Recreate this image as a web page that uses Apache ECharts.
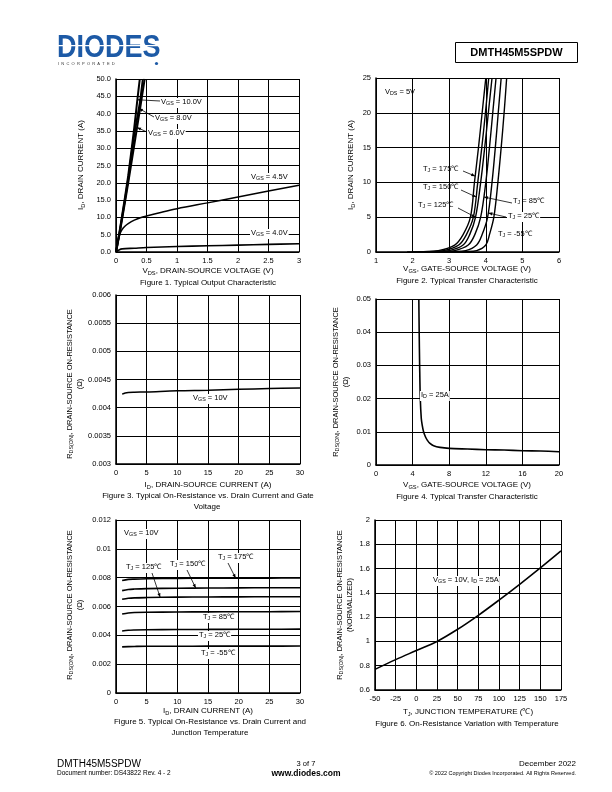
<!DOCTYPE html>
<html><head><meta charset="utf-8">
<script src="https://cdn.jsdelivr.net/npm/echarts@6/dist/echarts.min.js"></script>
<style>html,body{margin:0;padding:0;background:#fff}#c{width:612px;height:792px}</style>
</head><body><div id="c"></div>
<script>
// ---------- DATA ----------
// Figure 1: VDS (V), ID (A)
const fig1_vgs10 = [[0,0],[0.05,5],[0.1,10.5],[0.2,22],[0.3,36],[0.35,44],[0.39,50]];
const fig1_vgs8  = [[0,0],[0.05,4.8],[0.1,10],[0.2,21],[0.3,34],[0.39,43],[0.44,50]];
const fig1_vgs6  = [[0,0],[0.05,4.5],[0.1,9.5],[0.2,20],[0.3,31],[0.4,42],[0.47,50]];
const fig1_vgs45 = [[0,0],[0.03,3],[0.07,5.5],[0.1,6.5],[0.15,7.5],[0.2,8.2],[0.3,9.2],[0.4,9.9],[0.5,10.4],[0.75,11.5],[1,12.5],[1.5,14.2],[2,15.9],[2.5,17.6],[3,19.3]];
const fig1_vgs40 = [[0,0],[0.05,0.6],[0.1,0.9],[0.3,1.1],[0.5,1.3],[1,1.6],[1.5,1.8],[2,2.0],[2.5,2.2],[3,2.4]];
// Figure 2: VGS (V), ID (A)
const fig2_t175 = [[1.85,0],[2.3,0.05],[2.7,0.2],[3.15,1],[3.38,2.5],[3.58,5],[3.69,10],[3.8,15],[3.9,20],[4.0,25]];
const fig2_t150 = [[2.0,0],[2.45,0.05],[2.85,0.2],[3.26,1],[3.47,2.5],[3.66,5],[3.78,10],[3.89,15],[3.99,20],[4.08,25]];
const fig2_t125 = [[2.15,0],[2.6,0.05],[3.0,0.2],[3.38,1],[3.56,2.5],[3.72,5],[3.86,10],[3.97,15],[4.07,20],[4.17,25]];
const fig2_t85  = [[2.35,0],[2.8,0.05],[3.15,0.2],[3.52,1],[3.7,2.5],[3.86,5],[4.0,10],[4.1,15],[4.19,20],[4.28,25]];
const fig2_t25  = [[2.7,0],[3.1,0.05],[3.45,0.2],[3.75,1],[3.9,2.5],[4.05,5],[4.17,10],[4.26,15],[4.34,20],[4.42,25]];
const fig2_tm55 = [[3.1,0],[3.45,0.05],[3.75,0.2],[4.0,1],[4.1,2.5],[4.22,5],[4.33,10],[4.42,15],[4.5,20],[4.57,25]];
// Figure 3: ID (A), RDS(ON) (ohm)
const fig3_vgs10 = [[1,0.00424],[1.5,0.00426],[2,0.00427],[3,0.004275],[5,0.00428],[10,0.0043],[15,0.00431],[20,0.004325],[25,0.00434],[30,0.00435]];
// Figure 4: VGS (V), RDS(ON) (ohm)
const fig4_id25 = [[4.68,0.05],[4.72,0.04],[4.77,0.03],[4.84,0.02],[4.95,0.014],[5.05,0.012],[5.2,0.01],[5.4,0.0085],[5.6,0.0075],[5.9,0.0065],[6.3,0.0058],[7,0.0053],[8,0.005],[10,0.0048],[12,0.0046],[14,0.0045],[16,0.0043],[18,0.0042],[20,0.004]];
// Figure 5: ID (A), RDS(ON) (ohm)
const fig5_t175 = [[1,0.0078],[2,0.00788],[3,0.0079],[5,0.00792],[10,0.00795],[15,0.00796],[20,0.00797],[25,0.00797],[30,0.00798]];
const fig5_t150 = [[1,0.0071],[2,0.00718],[3,0.00721],[5,0.00724],[10,0.00727],[15,0.00728],[20,0.00729],[25,0.0073],[30,0.0073]];
const fig5_t125 = [[1,0.0065],[2,0.00657],[3,0.0066],[5,0.00662],[10,0.00665],[15,0.00666],[20,0.00667],[25,0.00668],[30,0.00668]];
const fig5_t85  = [[1,0.00548],[2,0.00555],[3,0.00558],[5,0.0056],[10,0.00562],[15,0.00563],[20,0.00564],[25,0.00564],[30,0.00565]];
const fig5_t25  = [[1,0.0043],[2,0.00435],[3,0.00437],[5,0.00439],[10,0.0044],[15,0.00441],[20,0.00442],[25,0.00442],[30,0.00443]];
const fig5_tm55 = [[1,0.0032],[2,0.00322],[3,0.00323],[5,0.00324],[10,0.00324],[15,0.00325],[20,0.00325],[25,0.00325],[30,0.00326]];
// Figure 6: TJ (C), normalized RDS(ON)
const fig6_norm = [[-50,0.77],[-25,0.85],[0,0.925],[25,1.0],[50,1.1],[75,1.215],[100,1.34],[125,1.47],[150,1.605],[175,1.745]];

// Axis ranges / ticks
const axes = [
  {x:[0,3,0.5],      y:[0,50,5],          yfmt: v => v.toFixed(1)},
  {x:[1,6,1],        y:[0,25,5],          yfmt: v => String(v)},
  {x:[0,30,5],       y:[0.003,0.006,0.0005], yfmt: v => String(+v.toFixed(4))},
  {x:[0,20,4],       y:[0,0.05,0.01],     yfmt: v => String(+v.toFixed(2))},
  {x:[0,30,5],       y:[0,0.012,0.002],   yfmt: v => String(+v.toFixed(3))},
  {x:[-50,175,25],   y:[0.6,2,0.2],       yfmt: v => String(+v.toFixed(1))}
];

// ---------- LAYOUT ----------
const FONT = '"Liberation Sans", Arial, sans-serif';
const grids = [
  {left:116, top:79,  width:183, height:173},
  {left:376, top:78,  width:183, height:174},
  {left:116, top:295, width:184, height:169},
  {left:376, top:299, width:183, height:166},
  {left:116, top:520, width:184, height:173},
  {left:375, top:520, width:186, height:170}
];

const chart = echarts.init(document.getElementById('c'), null, {renderer:'canvas'});
const lbl = {color:'#000', fontSize:7.5, fontFamily:FONT};
const xAxis = axes.map((a,i)=>({
  gridIndex:i, type:'value', min:a.x[0], max:a.x[1], interval:a.x[2],
  axisLine:{show:true, onZero:false, lineStyle:{color:'#000', width:1.5}},
  axisTick:{show:false},
  axisLabel:Object.assign({margin:5, showMinLabel:true, showMaxLabel:true, formatter: v => String(+v.toFixed(2))}, lbl),
  splitLine:{show:true, lineStyle:{color:'#000', width:1}}
}));
const yAxis = axes.map((a,i)=>({
  gridIndex:i, type:'value', min:a.y[0], max:a.y[1], interval:a.y[2],
  axisLine:{show:true, onZero:false, lineStyle:{color:'#000', width:1.5}},
  axisTick:{show:false},
  axisLabel:Object.assign({margin:5, showMinLabel:true, showMaxLabel:true, formatter:a.yfmt}, lbl),
  splitLine:{show:true, lineStyle:{color:'#000', width:1}}
}));

function S(data, gi, w, smooth){
  return {type:'line', data, xAxisIndex:gi, yAxisIndex:gi, showSymbol:false, symbol:'none',
    smooth: smooth===undefined ? 0.35 : smooth, clip:true, silent:true, animation:false,
    lineStyle:{color:'#000', width:w||1.5}, z:5};
}
const series = [
  S(fig1_vgs10,0,2,0.2), S(fig1_vgs8,0,2,0.2), S(fig1_vgs6,0,2,0.2), S(fig1_vgs45,0,1.5), S(fig1_vgs40,0,1.6),
  S(fig2_t175,1,1.4), S(fig2_t150,1,1.4), S(fig2_t125,1,1.4), S(fig2_t85,1,1.4), S(fig2_t25,1,1.4), S(fig2_tm55,1,1.4),
  S(fig3_vgs10,2,1.5),
  S(fig4_id25,3,1.6,0.3),
  S(fig5_t175,4,1.6), S(fig5_t150,4,1.6), S(fig5_t125,4,1.6), S(fig5_t85,4,1.6), S(fig5_t25,4,1.6), S(fig5_tm55,4,1.6),
  S(fig6_norm,5,1.6)
];

chart.setOption({animation:false, grid:grids, xAxis, yAxis, series});

// ---------- ANNOTATIONS ----------
function mkRich(fs){ return {
  n:{fontSize:fs, fontFamily:FONT, fill:'#000', verticalAlign:'top', lineHeight:fs+2.5},
  s:{fontSize:fs*0.71, fontFamily:FONT, fill:'#000', verticalAlign:'top', lineHeight:fs+2.5, padding:[fs*0.43,0,0,0]}
};}
const RICH = mkRich(7.5), RICH8 = mkRich(8);
function T(x, y, text, o){
  const st = Object.assign({text, fill:'#000', fontSize:7.5, fontFamily:FONT, textAlign:'center', textVerticalAlign:'middle', rich:RICH}, o||{});
  const el = {type:'text', x, y, z:100, style:st};
  if (o && o.rotation){ el.rotation = o.rotation; delete st.rotation; }
  return el;
}
function T8(x,y,text,o){ return T(x,y,text,Object.assign({fontSize:8, rich:RICH8}, o||{})); }
function LT(x,y,text,bg){ return T(x,y,text,Object.assign({textAlign:'left'}, bg?{backgroundColor:'#fff', padding:[0,1]}:{})); }
function px(gi, p){ return chart.convertToPixel({gridIndex:gi}, p); }
function arrow(x1,y1,gi,p,head){
  const q = px(gi,p), x2=q[0], y2=q[1];
  const els = [{type:'line', z:101, shape:{x1,y1,x2,y2}, style:{stroke:'#000', lineWidth:0.8}}];
  if (head!==false){
    const dx=x2-x1, dy=y2-y1, L=Math.hypot(dx,dy)||1, ux=dx/L, uy=dy/L, h=4, w=1.6;
    els.push({type:'polygon', z:101, shape:{points:[[x2,y2],[x2-ux*h-uy*w, y2-uy*h+ux*w],[x2-ux*h+uy*w, y2-uy*h-ux*w]]}, style:{fill:'#000'}});
  }
  return els;
}
const V = (sub, rest) => '{n|V}{s|'+sub+'}{n|'+rest+'}';
const TJ = rest => '{n|T}{s|J}{n|'+rest+'}';
const RDS = '{n|R}{s|DS(ON)}{n|, DRAIN-SOURCE ON-RESISTANCE}';
const ROT = Math.PI/2;

let g = [];
// header
g.push({type:'text', x:57, y:48, z:100, scaleX:0.87, style:{text:'DIODES', fill:'#1d5aa6', font:'bold 31px '+FONT, textAlign:'left', textVerticalAlign:'middle'}});
g.push({type:'rect', z:101, shape:{x:57, y:45, width:102, height:1.2}, style:{fill:'#fff'}});
g.push({type:'text', x:58, y:64, z:100, style:{text:'I  N  C  O  R  P  O  R  A  T  E  D', fill:'#333', fontSize:4, fontFamily:FONT, textAlign:'left', textVerticalAlign:'middle'}});
g.push({type:'circle', z:100, shape:{cx:156.5, cy:63.5, r:1.6}, style:{fill:'#1d5aa6'}});
g.push({type:'rect', z:100, shape:{x:455.5, y:42.5, width:122, height:20}, style:{fill:'none', stroke:'#000', lineWidth:1}});
g.push({type:'text', x:516.5, y:53, z:100, style:{text:'DMTH45M5SPDW', fill:'#000', font:'bold 11px '+FONT, textAlign:'center', textVerticalAlign:'middle'}});
// footer
g.push({type:'text', x:57, y:764, z:100, style:{text:'DMTH45M5SPDW', fill:'#000', font:'10px '+FONT, textAlign:'left', textVerticalAlign:'middle'}});
g.push({type:'text', x:57, y:773.5, z:100, style:{text:'Document number: DS43822 Rev. 4 - 2', fill:'#000', font:'6.5px '+FONT, textAlign:'left', textVerticalAlign:'middle'}});
g.push({type:'text', x:306, y:764, z:100, style:{text:'3 of 7', fill:'#000', font:'7.5px '+FONT, textAlign:'center', textVerticalAlign:'middle'}});
g.push({type:'text', x:306, y:773.5, z:100, style:{text:'www.diodes.com', fill:'#000', font:'bold 8.5px '+FONT, textAlign:'center', textVerticalAlign:'middle'}});
g.push({type:'text', x:576, y:764, z:100, style:{text:'December 2022', fill:'#000', font:'8px '+FONT, textAlign:'right', textVerticalAlign:'middle'}});
g.push({type:'text', x:576, y:773.5, z:100, style:{text:'© 2022 Copyright Diodes Incorporated. All Rights Reserved.', fill:'#000', font:'5.5px '+FONT, textAlign:'right', textVerticalAlign:'middle'}});

// Figure 1
g.push(T8(82,165,'{n|I}{s|D}{n|, DRAIN CURRENT (A)}',{rotation:ROT}));
g.push(T8(208,272,V('DS',', DRAIN-SOURCE VOLTAGE (V)')));
g.push(T8(208,283,'Figure 1. Typical Output Characteristic'));
g.push(LT(160,103,V('GS',' = 10.0V'),true));
g.push(LT(154,119,V('GS',' = 8.0V'),true));
g.push(LT(147,134,V('GS',' = 6.0V'),true));
g.push(LT(250,178,V('GS',' = 4.5V'),true));
g.push(LT(250,234,V('GS',' = 4.0V'),true));
g = g.concat(arrow(160,101,0,[0.35,44]), arrow(154,117,0,[0.375,41.5]), arrow(147,132,0,[0.345,36]));

// Figure 2
g.push(T8(352,165,'{n|I}{s|D}{n|, DRAIN CURRENT (A)}',{rotation:ROT}));
g.push(T8(467,270,V('GS',', GATE-SOURCE VOLTAGE (V)')));
g.push(T8(467,281,'Figure 2. Typical Transfer Characteristic'));
g.push(LT(385,93,V('DS',' = 5V')));
g.push(LT(423,170,TJ(' = 175℃')));
g.push(LT(423,188,TJ(' = 150℃')));
g.push(LT(418,206,TJ(' = 125℃')));
g.push(LT(513,202,TJ(' = 85℃')));
g.push(LT(507,217,TJ(' = 25℃'),true));
g.push(LT(498,235,TJ(' = -55℃')));
g = g.concat(arrow(463,171,1,[3.71,10.9]), arrow(461,190,1,[3.74,7.9]), arrow(458,208,1,[3.72,5.0]),
             arrow(512,203,1,[3.95,7.9]), arrow(506,217,1,[4.07,5.6]));

// Figure 3
g.push(T(76,384,RDS+'\n{n|(Ω)}',{rotation:ROT}));
g.push(T8(208,486,'{n|I}{s|D}{n|, DRAIN-SOURCE CURRENT (A)}'));
g.push(T8(208,496,'Figure 3. Typical On-Resistance vs. Drain Current and Gate'));
g.push(T8(207,507,'Voltage'));
g.push(LT(192,399,V('GS',' = 10V'),true));

// Figure 4
g.push(T(342,382,RDS+'\n{n|(Ω)}',{rotation:ROT}));
g.push(T8(467,486,V('GS',', GATE-SOURCE VOLTAGE (V)')));
g.push(T8(467,497,'Figure 4. Typical Transfer Characteristic'));
g.push(LT(420,396,'{n|I}{s|D}{n| = 25A}',true));

// Figure 5
g.push(T(76,605,RDS+'\n{n|(Ω)}',{rotation:ROT}));
g.push(T8(208,712,'{n|I}{s|D}{n|, DRAIN CURRENT (A)}'));
g.push(T8(210,722,'Figure 5. Typical On-Resistance vs. Drain Current and'));
g.push(T8(210,733,'Junction Temperature'));
g.push(LT(123,534,V('GS',' = 10V'),true));
g.push(LT(125,568,TJ(' = 125℃'),true));
g.push(LT(169,565,TJ(' = 150℃'),true));
g.push(LT(217,558,TJ(' = 175℃'),true));
g.push(LT(202,618,TJ(' = 85℃'),true));
g.push(LT(198,636,TJ(' = 25℃'),true));
g.push(LT(200,654,TJ(' = -55℃'),true));
g = g.concat(arrow(228,563,4,[19.5,0.00797]), arrow(187,570,4,[13,0.00728]), arrow(152,573,4,[7.2,0.00664]));

// Figure 6
g.push(T(346,605,RDS+'\n{n|(NORMALIZED)}',{rotation:ROT}));
g.push(T8(468,713,TJ(', JUNCTION TEMPERATURE (℃)')));
g.push(T8(467,724,'Figure 6. On-Resistance Variation with Temperature'));
g.push(LT(432,581,V('GS',' = 10V, ')+'{n|I}{s|D}{n| = 25A}',true));

chart.setOption({graphic:{elements:g}});
</script></body></html>
